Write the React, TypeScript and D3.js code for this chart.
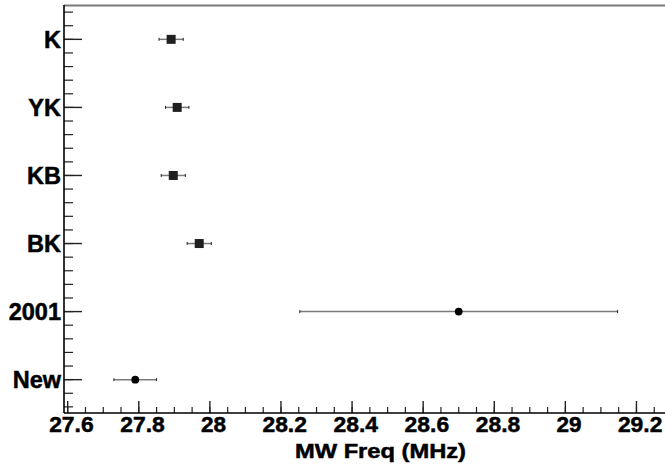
import React from "react";
import * as d3 from "d3";

const categories = ["New", "2001", "BK", "KB", "YK", "K"];
const freqValues = [27.79, 28.7, 27.97, 27.897, 27.908, 27.891];
const freqErrors = [0.06, 0.447, 0.034, 0.034, 0.033, 0.034];
const markerKinds = ["circle", "circle", "square", "square", "square", "square"];
const xTickValues = [27.6, 27.8, 28.0, 28.2, 28.4, 28.6, 28.8, 29.0, 29.2];
const xTickLabels = ["27.6", "27.8", "28", "28.2", "28.4", "28.6", "28.8", "29", "29.2"];
const xTitle = "MW Freq (MHz)";

const W = 665;
const H = 467;
const left = 64;
const top = 6;
const bottom = 413;
const rightPx = 672;

export default function App() {
  const x = d3.scaleLinear().domain([27.5896, 29.3]).range([left, rightPx]);
  const y = d3.scaleLinear().domain([-0.49, 5.49]).range([bottom, top]);

  const xMinor = d3.range(27.6, 29.31, 0.05).filter((v) => x(v) >= left && x(v) <= W);
  const yMinor = d3.range(-0.4, 5.45, 0.2);
  const yMajor = categories.map((_, i) => i);

  const font = "'Liberation Sans', Arial, Helvetica, sans-serif";

  return (
    <svg width={W} height={H} style={{ position: "absolute", left: 0, top: 0, background: "#fff" }}>
      <rect x={0} y={0} width={W} height={H} fill="#fff" />
      <line x1={left} x2={W} y1={top - 0.5} y2={top - 0.5} stroke="#7a7a7a" strokeWidth={2} />
      {yMinor.map((v, i) => (
        <line key={"ym" + i} x1={left} x2={left + 9} y1={y(v)} y2={y(v)} stroke="#222" strokeWidth={1.2} />
      ))}
      {yMajor.map((v) => (
        <line key={"yM" + v} x1={left} x2={left + 18} y1={y(v)} y2={y(v)} stroke="#222" strokeWidth={1.4} />
      ))}
      {xMinor.map((v, i) => (
        <line key={"xm" + i} x1={x(v)} x2={x(v)} y1={bottom} y2={bottom - 6} stroke="#222" strokeWidth={1.2} />
      ))}
      {xTickValues.map((v) => (
        <line key={"xM" + v} x1={x(v)} x2={x(v)} y1={bottom} y2={bottom - 12} stroke="#222" strokeWidth={1.4} />
      ))}
      <line x1={left} x2={left} y1={top - 1} y2={bottom} stroke="#000" strokeWidth={1.6} />
      <line x1={left} x2={W} y1={bottom} y2={bottom} stroke="#000" strokeWidth={1.6} />
      {categories.map((c, i) => (
        <text
          key={"yl" + c}
          x={left - 3}
          y={y(i) + 8.3}
          textAnchor="end"
          fontFamily={font}
          fontWeight="bold"
          fontSize={23.5}
          fill="#000"
          stroke="#000"
          strokeWidth={0.5}
        >
          {c}
        </text>
      ))}
      {xTickValues.map((v, i) => (
        <text
          key={"xl" + v}
          x={x(v) + 3.7}
          y={432}
          textAnchor="middle"
          fontFamily={font}
          fontWeight="bold"
          fontSize={22.5}
          textLength={xTickLabels[i].length > 2 ? 44.5 : undefined}
          lengthAdjust="spacingAndGlyphs"
          fill="#000"
          stroke="#000"
          strokeWidth={0.5}
        >
          {xTickLabels[i]}
        </text>
      ))}
      <text
        x={380.5}
        y={457.5}
        textAnchor="middle"
        fontFamily={font}
        fontWeight="bold"
        fontSize={20.5}
        textLength={171}
        lengthAdjust="spacingAndGlyphs"
        fill="#000"
        stroke="#000"
        strokeWidth={0.5}
      >
        {xTitle}
      </text>
      {categories.map((c, i) => {
        const cy = y(i);
        const x0 = x(freqValues[i] - freqErrors[i]);
        const x1 = x(freqValues[i] + freqErrors[i]);
        const cx = x(freqValues[i]);
        return (
          <g key={"pt" + c}>
            <line x1={x0} x2={x1} y1={cy} y2={cy} stroke="#7a7a7a" strokeWidth={1.5} />
            <line x1={x0} x2={x0} y1={cy - 1.5} y2={cy + 1.5} stroke="#222" strokeWidth={1} />
            <line x1={x1} x2={x1} y1={cy - 1.5} y2={cy + 1.5} stroke="#222" strokeWidth={1} />
            {markerKinds[i] === "square" ? (
              <rect x={cx - 4.5} y={cy - 4.5} width={9} height={9} fill="#202020" />
            ) : (
              <circle cx={cx} cy={cy} r={3.9} fill="#000" />
            )}
          </g>
        );
      })}
    </svg>
  );
}
